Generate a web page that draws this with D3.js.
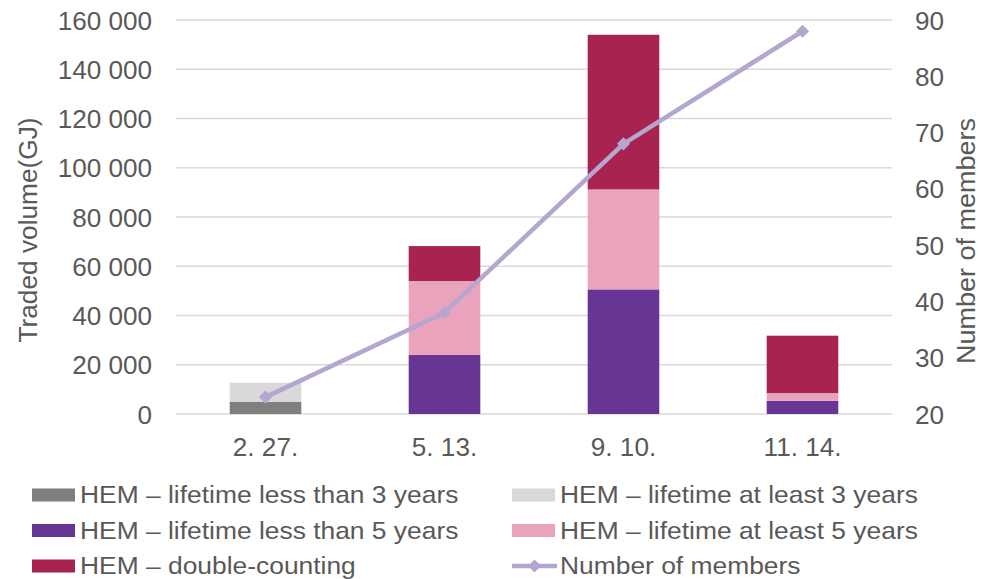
<!DOCTYPE html>
<html>
<head>
<meta charset="utf-8">
<script src="https://cdn.jsdelivr.net/npm/d3@7"></script>
<style>
  html, body { margin: 0; padding: 0; background: #fff; }
  svg { display: block; font-family: "Liberation Sans", Arial, sans-serif; }
</style>
</head>
<body>
<svg id="chart" width="982" height="579"></svg>
<script>
// Trading dates
const categories = ["2. 27.", "5. 13.", "9. 10.", "11. 14."];

// Traded volume (GJ) by HEM type, stacked in this order
const lessThan3 = [5000, 0, 0, 0];
const atLeast3 = [7700, 0, 0, 0];
const lessThan5 = [0, 24000, 50600, 5400];
const atLeast5 = [0, 30000, 40600, 3100];
const doubleCounting = [0, 14200, 62800, 23300];

// Number of members on each date
const members = [23, 38, 68, 88];

const seriesNames = [
  "HEM – lifetime less than 3 years",
  "HEM – lifetime at least 3 years",
  "HEM – lifetime less than 5 years",
  "HEM – lifetime at least 5 years",
  "HEM – double-counting"
];
const lineName = "Number of members";

const leftTicks = [0, 20000, 40000, 60000, 80000, 100000, 120000, 140000, 160000];
const rightTicks = [20, 30, 40, 50, 60, 70, 80, 90];

const colors = ["#7f7f7f", "#d9d9d9", "#673695", "#eaa3bd", "#a8234f"];
const lineColor = "#b4a6cf";
const textColor = "#595959";
const gridColor = "#d9d9d9";

const seriesValues = [lessThan3, atLeast3, lessThan5, atLeast5, doubleCounting];
const rows = categories.map((c, i) => {
  const r = { category: c };
  seriesNames.forEach((n, k) => { r[n] = seriesValues[k][i]; });
  return r;
});

const svg = d3.select("#chart");
const plot = { left: 176, right: 892, top: 20, bottom: 414 };

const x = d3.scaleBand()
  .domain(categories)
  .range([plot.left, plot.right])
  .paddingInner(0.6)
  .paddingOuter(0.3);

const yLeft = d3.scaleLinear().domain([0, 160000]).range([plot.bottom, plot.top]);
const yRight = d3.scaleLinear().domain([20, 90]).range([plot.bottom, plot.top]);

const locale = d3.formatLocale({ decimal: ".", thousands: " ", grouping: [3], currency: ["", ""] });
const fmt = locale.format(",");

// Slightly wide text face
const stretch = 1.045;

// Gridlines
svg.append("g")
  .selectAll("line")
  .data(leftTicks)
  .join("line")
  .attr("x1", plot.left).attr("x2", plot.right)
  .attr("y1", d => yLeft(d)).attr("y2", d => yLeft(d))
  .attr("stroke", gridColor)
  .attr("stroke-width", 1.5);

function styleTicks(g, dy) {
  g.select(".domain").remove();
  g.selectAll("text")
    .attr("fill", textColor)
    .attr("font-size", 25)
    .attr("font-family", "Liberation Sans, Arial, sans-serif")
    .attr("dy", dy)
    .attr("transform", `scale(${stretch},1)`);
}

// Left axis
svg.append("g")
  .attr("transform", `translate(${plot.left - 24},0)`)
  .call(d3.axisLeft(yLeft).tickValues(leftTicks).tickFormat(fmt).tickSize(0).tickPadding(0))
  .call(styleTicks, "0.36em");

// Right axis
svg.append("g")
  .attr("transform", `translate(${plot.right + 23},0)`)
  .call(d3.axisRight(yRight).tickValues(rightTicks).tickFormat(d3.format("d")).tickSize(0).tickPadding(0))
  .call(styleTicks, "0.36em");

// Category axis
svg.append("g")
  .attr("transform", `translate(0,${plot.bottom + 23})`)
  .call(d3.axisBottom(x).tickSize(0).tickPadding(0))
  .call(styleTicks, "0.76em");

// Stacked bars
const stacked = d3.stack().keys(seriesNames)(rows);
svg.append("g")
  .selectAll("g")
  .data(stacked)
  .join("g")
  .attr("fill", (d, i) => colors[i])
  .selectAll("rect")
  .data(d => d)
  .join("rect")
  .attr("x", d => x(d.data.category))
  .attr("width", x.bandwidth())
  .attr("y", d => yLeft(d[1]))
  .attr("height", d => yLeft(d[0]) - yLeft(d[1]));

// Members line with diamond markers
const cx = c => x(c) + x.bandwidth() / 2;
const line = d3.line()
  .x((d, i) => cx(categories[i]))
  .y(d => yRight(d));
svg.append("path")
  .datum(members)
  .attr("d", line)
  .attr("fill", "none")
  .attr("stroke", lineColor)
  .attr("stroke-width", 4.5)
  .attr("stroke-linejoin", "round");

const diamond = d3.symbol().type(d3.symbolDiamond2).size(110);
svg.append("g")
  .selectAll("path")
  .data(members)
  .join("path")
  .attr("d", diamond)
  .attr("transform", (d, i) => `translate(${cx(categories[i])},${yRight(d)})`)
  .attr("fill", lineColor);

// Axis titles
svg.append("text")
  .attr("transform", "translate(37,230) rotate(-90) scale(1.03,1)")
  .attr("text-anchor", "middle")
  .attr("fill", textColor)
  .attr("font-size", 25.5)
  .text("Traded volume(GJ)");

svg.append("text")
  .attr("transform", "translate(975,241) rotate(-90) scale(1.06,1)")
  .attr("text-anchor", "middle")
  .attr("fill", textColor)
  .attr("font-size", 25.5)
  .text("Number of members");

// Legend
const legendItems = [
  { name: seriesNames[0], color: colors[0], type: "rect", col: 0, row: 0 },
  { name: seriesNames[1], color: colors[1], type: "rect", col: 1, row: 0 },
  { name: seriesNames[2], color: colors[2], type: "rect", col: 0, row: 1 },
  { name: seriesNames[3], color: colors[3], type: "rect", col: 1, row: 1 },
  { name: seriesNames[4], color: colors[4], type: "rect", col: 0, row: 2 },
  { name: lineName, color: lineColor, type: "line", col: 1, row: 2 }
];
const colX = [32, 512];
const rowY = [495, 530.5, 566];

const li = svg.append("g")
  .selectAll("g")
  .data(legendItems)
  .join("g")
  .attr("transform", d => `translate(${colX[d.col]},${rowY[d.row]})`);

li.filter(d => d.type === "rect")
  .append("rect")
  .attr("x", 0).attr("y", -6.5)
  .attr("width", 43).attr("height", 13)
  .attr("fill", d => d.color);

li.filter(d => d.type === "line")
  .append("line")
  .attr("x1", 0).attr("x2", 45)
  .attr("y1", 0).attr("y2", 0)
  .attr("stroke", d => d.color)
  .attr("stroke-width", 4.5);

li.filter(d => d.type === "line")
  .append("path")
  .attr("d", diamond)
  .attr("transform", "translate(22.5,0)")
  .attr("fill", d => d.color);

li.append("text")
  .attr("transform", "translate(48,0) scale(1.1,1)")
  .attr("dy", "0.35em")
  .attr("fill", textColor)
  .attr("font-size", 24)
  .text(d => d.name);
</script>
</body>
</html>
